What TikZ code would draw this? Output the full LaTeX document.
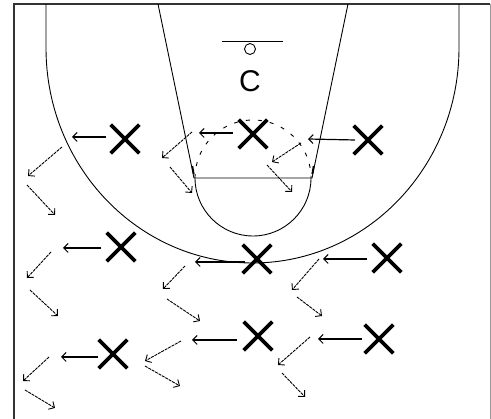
\documentclass[tikz,border=0pt]{standalone}
\usepackage{fontspec}
\setmainfont{Liberation Sans}
\usetikzlibrary{arrows.meta,shapes.misc}
\begin{document}
\begin{tikzpicture}[x=1pt,y=-1pt,
  court/.style={line width=0.9pt,black},
  xmark/.style={cross out,draw,line width=3.6pt,minimum size=25pt,inner sep=0pt},
  passarrow/.style={line width=1.2pt,-{Straight Barb[length=4.5pt,width=9pt,line width=1pt]}},
  cutarrow/.style={line width=0.9pt,dash pattern=on 3pt off 0.9pt,-{Straight Barb[length=4.5pt,width=9pt,line width=0.9pt]}}]
\useasboundingbox (0,0) rectangle (491,419);
\fill[white] (0,0) rectangle (491,419);
% borders
\draw[line width=1.4pt,black!80] (14,419) -- (14,4) -- (490,4);
\draw[line width=0.7pt,black!40] (490,4) -- (490,419);
% three point line
\draw[court] (46,4) -- (46,48) arc[start angle=180,end angle=0,x radius=206.5,y radius=215] -- (459,4);
% lane
\draw[court] (158,4) -- (194,178) -- (312,178) -- (348,4);
\draw[line width=1.8pt] (192.3,166) -- (193.7,174);
\draw[line width=1.8pt] (313.7,166) -- (312.3,174);
% free throw circle
\draw[court] (195,178) arc[start angle=180,end angle=0,radius=58];
\draw[court,dash pattern=on 4pt off 8pt] (195,178) arc[start angle=180,end angle=360,radius=58];
% basket
\draw[court] (222,41) -- (283,41);
\draw[court] (250,49) circle[radius=5.5];
\node[font=\fontsize{30}{33}\selectfont,inner sep=0pt] (c) at (250,81) {C};
% players
\node[xmark] (x1) at (125,139) {};
\node[xmark] (x2) at (253,134) {};
\node[xmark] (x3) at (368,140) {};
\node[xmark] (x4) at (121,247) {};
\node[xmark] (x5) at (257,259) {};
\node[xmark] (x6) at (387,258) {};
\node[xmark] (x7) at (258,336) {};
\node[xmark] (x8) at (379,339) {};
\node[xmark] (x9) at (113,354) {};
% passes
\draw[passarrow] (106,137) -- (72,137);
\draw[passarrow] (233,133) -- (199,133);
\draw[passarrow] (355,140) -- (308,139);
\draw[passarrow] (101,248) -- (63,248);
\draw[passarrow] (245,262) -- (195,262);
\draw[passarrow] (367,259) -- (323,259);
\draw[passarrow] (237,340) -- (192,340);
\draw[passarrow] (362,339) -- (318,339);
\draw[passarrow] (98,357) -- (61,357);
% cuts down-left
\draw[cutarrow] (62,147) -- (28,176);
\draw[cutarrow] (192,132) -- (162,158);
\draw[cutarrow] (301,143) -- (272,162);
\draw[cutarrow] (51,252) -- (27,278);
\draw[cutarrow] (185,266) -- (163,289);
\draw[cutarrow] (319,259) -- (292,290);
\draw[cutarrow] (181,341) -- (145,361);
\draw[cutarrow] (310,337) -- (278,365);
\draw[cutarrow] (49,357) -- (23,381);
% cuts down-right
\draw[cutarrow] (27,185) -- (55,215);
\draw[cutarrow] (170,167) -- (192,193);
\draw[cutarrow] (267,165) -- (292,192);
\draw[cutarrow] (30,290) -- (58,316);
\draw[cutarrow] (167,299) -- (200,321);
\draw[cutarrow] (297,297) -- (322,316);
\draw[cutarrow] (145,366) -- (180,386);
\draw[cutarrow] (282,373) -- (305,397);
\draw[cutarrow] (25,390) -- (55,408);
\end{tikzpicture}
\end{document}
